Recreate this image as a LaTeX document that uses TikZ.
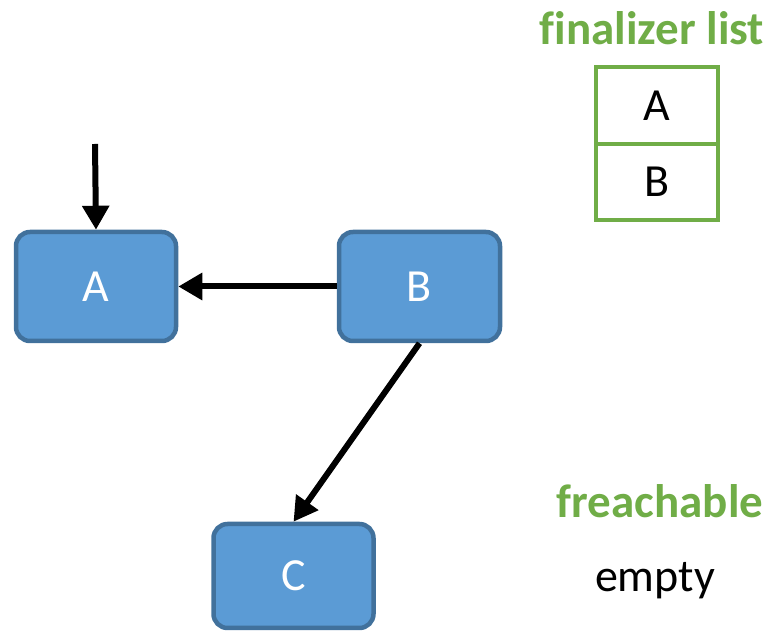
\documentclass[tikz,border=0pt]{standalone}
\usepackage{fontspec}
\setmainfont{Carlito}[Ligatures=NoCommon]
\usetikzlibrary{arrows.meta}
\definecolor{boxblue}{HTML}{5B9BD5}
\definecolor{boxedge}{HTML}{41719C}
\definecolor{listgreen}{HTML}{70AD47}
\begin{document}
\begin{tikzpicture}[x=1pt,y=1pt,
  obj/.style={draw=boxedge, fill=boxblue, line width=4.5pt, rounded corners=14pt,
    minimum width=160pt, minimum height=109pt, inner sep=0pt, text=white,
    font=\fontsize{46}{52}\selectfont},
  ref/.style={line width=6pt, -{Triangle[length=24pt,width=26pt]}},
  cell/.style={draw=listgreen, line width=4.5pt, minimum width=122pt, minimum height=77pt,
    inner sep=0pt, outer sep=0pt, font=\fontsize{46}{52}\selectfont},
  heading/.style={text=listgreen, font=\bfseries\fontsize{47}{52}\selectfont, inner sep=0pt},
  plain/.style={font=\fontsize{46}{52}\selectfont, inner sep=0pt}]
\useasboundingbox (0,0) rectangle (772,632);

% objects on the heap
\node[obj] (A) at (96,345.5) {A};
\node[obj, minimum width=161pt] (B) at (419.5,345.5) {B};
\node[obj, minimum height=104pt] (C) at (293.5,56) {C};

% root reference and object references
\coordinate (root) at (95,488);
\draw[ref] (root) -- (A.north);
\draw[ref] (B.west) -- (A.east);
\draw[ref] (B.south) -- (C.north);

% finalizer list
\node[heading, anchor=base] (fl) at (652,587) {finalizer list};
\node[cell] (fa) at (657,526.5) {A};
\node[cell, anchor=north, minimum height=76pt] (fb) at (fa.south) {B};

% freachable queue
\node[heading, anchor=base] (fr) at (660,114) {freachable};
\node[plain, anchor=base] (em) at (655,40) {empty};
\end{tikzpicture}
\end{document}
